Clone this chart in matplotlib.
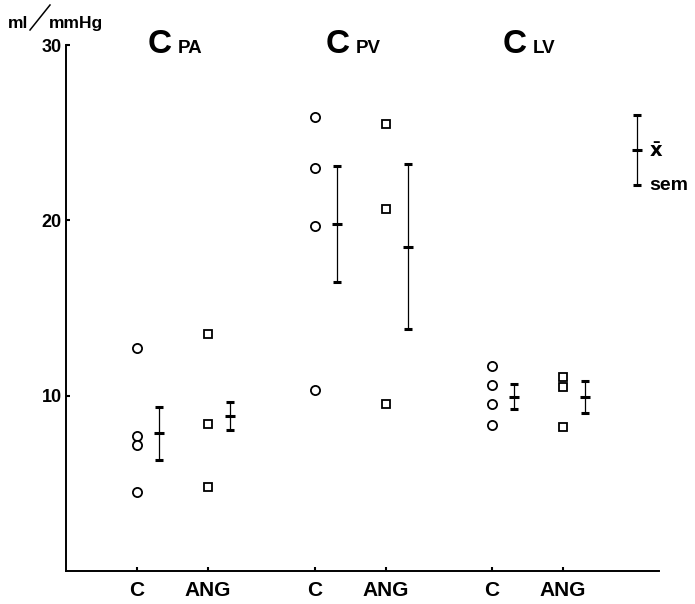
import matplotlib.pyplot as plt
from matplotlib.lines import Line2D

# values (ml/mmHg)
titles = ["C", "C", "C"]
subscripts = ["PA", "PV", "LV"]
tick_labels = ["C", "ANG", "C", "ANG", "C", "ANG"]

cpa_c = [12.7, 7.7, 7.2, 4.5]
cpa_ang = [13.5, 8.4, 4.8]
cpv_c = [25.9, 23.0, 19.7, 10.3]
cpv_ang = [25.5, 20.65, 9.55]
clv_c = [11.7, 10.6, 9.55, 8.3]
clv_ang = [11.05, 10.5, 8.2]

means = [7.85, 8.85, 19.8, 18.5, 9.95, 9.92]
sems = [1.5, 0.8, 3.3, 4.72, 0.69, 0.93]

legend_mean = 24.0
legend_sem = 2.0

series = [cpa_c, cpa_ang, cpv_c, cpv_ang, clv_c, clv_ang]

plt.rcParams["font.family"] = ["Liberation Sans", "DejaVu Sans"]
plt.rcParams["font.weight"] = "bold"

fig = plt.figure(figsize=(6.95, 6.04), dpi=100)
ax = fig.add_axes([66 / 695, 1 - 571 / 604, (658.5 - 66) / 695, (571 - 45) / 604])

positions = []
for g in range(3):
    positions += [1 + 2.5 * g, 2 + 2.5 * g]

for i, vals in enumerate(series):
    x = positions[i]
    if i % 2 == 0:
        ax.plot([x] * len(vals), vals, linestyle="none", marker="o", ms=6.6,
                mfc="white", mec="black", mew=1.3)
    else:
        ax.plot([x] * len(vals), vals, linestyle="none", marker="s", ms=5.4,
                mfc="white", mec="black", mew=1.3)
    ax.errorbar(x + 0.31, means[i], yerr=sems[i], fmt="_", ms=7, mew=2.2,
                color="black", ecolor="black", elinewidth=0.9, capsize=3,
                capthick=2)

# mean / sem key on the right
ax.errorbar(8.04, legend_mean, yerr=legend_sem, fmt="_", ms=7, mew=2.2,
            color="black", elinewidth=0.9, capsize=3, capthick=2,
            clip_on=False)
ax.text(8.22, legend_mean, "x\u0304", fontsize=14, fontweight="bold",
        va="center", ha="left", family=["DejaVu Sans"])
ax.text(8.22, legend_mean - legend_sem, "sem", fontsize=14,
        fontweight="bold", va="center", ha="left")

# group titles
for g in range(3):
    xc = 1 + 2.5 * g
    ax.text(xc + 0.32, 29.55, titles[g], fontsize=24, fontweight="bold",
            ha="center", va="baseline")
    ax.text(xc + 0.58, 29.55, subscripts[g], fontsize=13.5,
            fontweight="bold", ha="left", va="baseline")

ax.set_xlim(0, 8.345)
ax.set_ylim(0, 30)
ax.set_xticks(positions)
ax.set_xticklabels(tick_labels, fontsize=15, fontweight="bold")
ax.set_yticks([10, 20, 30])
ax.set_yticklabels(["10", "20", "30"], fontsize=13, fontweight="bold")
ax.tick_params(axis="both", direction="in", length=3, width=1.5, pad=3)
ax.tick_params(axis="x", pad=7)
for side in ["top", "right"]:
    ax.spines[side].set_visible(False)
for side in ["left", "bottom"]:
    ax.spines[side].set_linewidth(1.4)

# unit label "ml/mmHg" with a long thin slash
fig.text(8 / 695, 1 - 28 / 604, "ml", fontsize=12.5, fontweight="bold",
         ha="left", va="baseline")
fig.add_artist(Line2D([30 / 695, 50 / 695], [1 - 30 / 604, 1 - 5 / 604],
                      color="black", lw=1.1))
fig.text(49 / 695, 1 - 28 / 604, "mmHg", fontsize=12.5, fontweight="bold",
         ha="left", va="baseline")

fig.savefig("out.png", dpi=100)
